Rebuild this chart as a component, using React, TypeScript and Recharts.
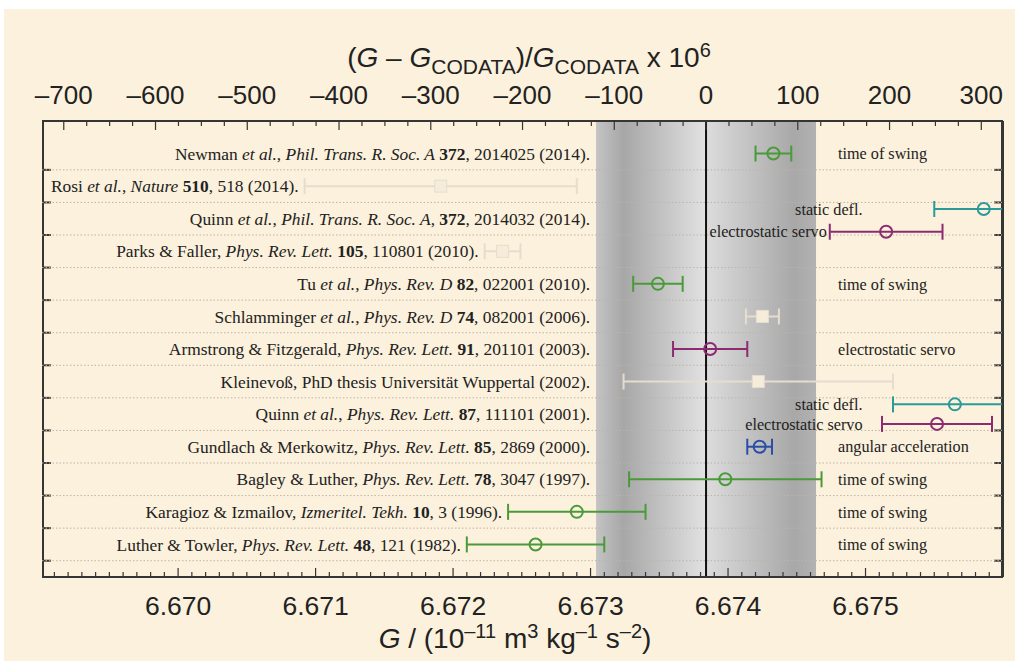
import React from 'react';
import {
  ComposedChart,
  Scatter,
  ErrorBar,
  XAxis,
  YAxis,
  ReferenceArea,
  ReferenceLine,
} from 'recharts';

// CODATA 2010 value and its standard uncertainty
const G_CODATA = 6.67384;
const G_CODATA_ERR = 0.0008;
const G_MIN = 6.66901;
const G_MAX = 6.676;

const rowLabels = [
  'Newman *et al.*, *Phil. Trans. R. Soc. A* **372**, 2014025 (2014).',
  'Rosi *et al.*, *Nature* **510**, 518 (2014).',
  'Quinn *et al.*, *Phil. Trans. R. Soc. A*, **372**, 2014032 (2014).',
  'Parks & Faller, *Phys. Rev. Lett.* **105**, 110801 (2010).',
  'Tu *et al.*, *Phys. Rev. D* **82**, 022001 (2010).',
  'Schlamminger *et al.*, *Phys. Rev. D* **74**, 082001 (2006).',
  'Armstrong & Fitzgerald, *Phys. Rev. Lett.* **91**, 201101 (2003).',
  'Kleinevoß, PhD thesis Universität Wuppertal (2002).',
  'Quinn *et al.*, *Phys. Rev. Lett.* **87**, 111101 (2001).',
  'Gundlach & Merkowitz, *Phys. Rev. Lett.* **85**, 2869 (2000).',
  'Bagley & Luther, *Phys. Rev. Lett.* **78**, 3047 (1997).',
  'Karagioz & Izmailov, *Izmeritel. Tekh.* **10**, 3 (1996).',
  'Luther & Towler, *Phys. Rev. Lett.* **48**, 121 (1982).',
];
const rowMethods = [
  'time of swing', '', '', '', 'time of swing', '', 'electrostatic servo',
  '', '', 'angular acceleration', 'time of swing', 'time of swing', 'time of swing',
];

// time of swing (green)
const swingG = [6.67433, 6.67349, 6.67398, 6.6729, 6.6726];
const swingErr = [0.00013, 0.00018, 0.0007, 0.0005, 0.0005];
const swingRow = [1, 5, 11, 12, 13];

// electrostatic servo (purple)
const servoG = [6.67515, 6.67387, 6.67552];
const servoErr = [0.00041, 0.00027, 0.0004];
const servoRow = [3.4, 7, 9.3];

// static deflection (teal)
const staticG = [6.67586, 6.67565];
const staticErr = [0.00036, 0.00045];
const staticRow = [2.7, 8.7];

// angular acceleration (blue)
const angularG = [6.67423];
const angularErr = [0.00009];
const angularRow = [10];

// other results (faint)
const otherG = [6.67191, 6.67236, 6.67425, 6.67422];
const otherErr = [0.00099, 0.00013, 0.00012, 0.00098];
const otherRow = [2, 4, 6, 8];

const subLabelText = ['static defl.', 'electrostatic servo', 'static defl.', 'electrostatic servo'];
const subLabelRow = [2.7, 3.4, 8.7, 9.3];

const ppmLabels = [-700, -600, -500, -400, -300, -200, -100, 0, 100, 200, 300];
const gLabels = [6.67, 6.671, 6.672, 6.673, 6.674, 6.675];

const WIDTH = 1015;
const HEIGHT = 661;
const AXIS_H = 60;
const MARGIN = { top: 61, right: 12, bottom: 24, left: 42 };
const PLOT_TOP = MARGIN.top + AXIS_H;
const PLOT_H = HEIGHT - PLOT_TOP - MARGIN.bottom - AXIS_H;
const PLOT_RIGHT = WIDTH - MARGIN.right;

const GREEN = '#4b9a3a';
const PURPLE = '#8c2b70';
const TEAL = '#2b9a98';
const BLUE = '#2a4ea6';
const FAINT = '#e6ddcf';
const FRAME = '#353535';
const SERIF = '"Liberation Serif", "Times New Roman", serif';
const SANS = '"Liberation Sans", Arial, sans-serif';

// error bars running past the frame are cut at its edge
const toPoints = (g: number[], err: number[], row: number[]) =>
  g.map((v, i) => ({
    g: v,
    err: [Math.min(err[i], v - G_MIN), Math.min(err[i], G_MAX - v)],
    low: v - err[i],
    row: row[i],
  }));

const swing = toPoints(swingG, swingErr, swingRow);
const servo = toPoints(servoG, servoErr, servoRow);
const statics = toPoints(staticG, staticErr, staticRow);
const angular = toPoints(angularG, angularErr, angularRow);
const other = toPoints(otherG, otherErr, otherRow);
const allPoints = [...swing, ...servo, ...statics, ...angular, ...other];

const toPpm = (g: number) => ((g - G_CODATA) / G_CODATA) * 1e6;
const ppmPoints = allPoints.map((p) => ({ ppm: toPpm(p.g), row: p.row }));

const leftLabels = rowLabels.map((text, i) => {
  const lows = allPoints.filter((p) => Math.round(p.row) === i + 1).map((p) => p.low);
  return { g: Math.min(G_CODATA - G_CODATA_ERR, ...lows), row: i + 1, text };
});
const methodLabels = rowMethods
  .map((text, i) => ({ g: G_CODATA + G_CODATA_ERR + 0.00016, row: i + 1, text }))
  .filter((d) => d.text);
const subLabels = subLabelText.map((text, i) => {
  const p = allPoints.find((q) => q.row === subLabelRow[i]);
  return { g: Math.min(6.675, p ? p.low : 6.675), row: subLabelRow[i], text };
});

const ppmTicks: number[] = [];
for (let v = -700; v <= 300; v += 25) ppmTicks.push(v);
const gTicks: number[] = [];
for (let n = 66691; n <= 66759; n++) gTicks.push(n / 10000);
const rowTicks = rowLabels.map((_, i) => i + 1.5);

const richText = (text: string) =>
  text
    .split(/(\*\*[^*]+\*\*|\*[^*]+\*)/)
    .filter(Boolean)
    .map((s, i) => {
      if (s.startsWith('**')) return <tspan key={i} fontWeight="bold">{s.slice(2, -2)}</tspan>;
      if (s.startsWith('*')) return <tspan key={i} fontStyle="italic">{s.slice(1, -1)}</tspan>;
      return <tspan key={i}>{s}</tspan>;
    });

const ring = (color: string) => (props: any) =>
  <circle cx={props.cx} cy={props.cy} r={6} fill="none" stroke={color} strokeWidth={2} />;

const square = (props: any) =>
  <rect x={props.cx - 6} y={props.cy - 6} width={12} height={12} fill="#f6ecda" stroke={FAINT} strokeWidth={1} />;

const nothing = () => <g />;

const textShape = (anchor: 'start' | 'end', dx: number, size: number) => (props: any) =>
  <text x={props.cx + dx} y={props.cy} dy="0.35em" textAnchor={anchor} fontFamily={SERIF}
    fontSize={size} fill="#222">{richText(props.payload.text)}</text>;

// side frames drawn just inside the plot area, with inward ticks at each row separator
const frameShape = (props: any) => {
  const { x, y, width, height } = props;
  const yAt = (v: number) => y + (v / 14) * height;
  const left = x + 1;
  const right = x + width - 1;
  return (
    <g>
      <line x1={left} x2={left} y1={y} y2={y + height} stroke={FRAME} strokeWidth={2} />
      <line x1={right} x2={right} y1={y} y2={y + height} stroke={FRAME} strokeWidth={2} />
      {rowTicks.map((v) => (
        <g key={v}>
          <line x1={left} x2={left + 8} y1={yAt(v)} y2={yAt(v)} stroke={FRAME} strokeWidth={2} />
          <line x1={right - 8} x2={right} y1={yAt(v)} y2={yAt(v)} stroke={FRAME} strokeWidth={2} />
        </g>
      ))}
    </g>
  );
};

const BottomTick = (props: any) => {
  const { x, y, payload } = props;
  const major = Math.round(payload.value * 10000) % 10 === 0;
  return (
    <g>
      <line x1={x} x2={x} y1={y} y2={y - (major ? 9 : 5)} stroke={FRAME} strokeWidth={1.2} />
      {major && gLabels.some((l) => Math.abs(l - payload.value) < 1e-6) && (
        <text x={x} y={y + 38} textAnchor="middle" fontFamily={SANS} fontSize={26.5} fill="#222">
          {payload.value.toFixed(3)}
        </text>
      )}
    </g>
  );
};

const TopTick = (props: any) => {
  const { x, y, payload } = props;
  const major = ppmLabels.includes(payload.value);
  return (
    <g>
      <line x1={x} x2={x} y1={y} y2={y + (major ? 9 : 5)} stroke={FRAME} strokeWidth={1.2} />
      {major && (
        <text x={x} y={y - 17} textAnchor="middle" fontFamily={SANS} fontSize={26} fill="#222">
          {payload.value < 0 ? '\u2013' + Math.abs(payload.value) : payload.value}
        </text>
      )}
    </g>
  );
};

const supStyle: React.CSSProperties = { fontSize: 20, verticalAlign: 'super', lineHeight: 0 };
const subStyle: React.CSSProperties = { fontSize: 21, verticalAlign: 'sub', lineHeight: 0 };

export default function App() {
  return (
    <div style={{ position: 'absolute', left: 0, top: 0, width: WIDTH, height: HEIGHT, background: '#fff' }}>
      <div style={{ position: 'absolute', left: 4, top: 9, right: 0, bottom: 0, background: '#fbf1dc' }} />
      <div style={{ position: 'absolute', left: 0, top: 0 }}>
        <ComposedChart width={WIDTH} height={HEIGHT} margin={MARGIN}>
          <defs>
            <linearGradient id="bandLeft" x1="0" y1="0" x2="1" y2="0">
              <stop offset="0%" stopColor="#c4c4c4" />
              <stop offset="25%" stopColor="#a7a7a7" />
              <stop offset="100%" stopColor="#e2e2e2" />
            </linearGradient>
            <linearGradient id="bandRight" x1="0" y1="0" x2="1" y2="0">
              <stop offset="0%" stopColor="#dcdcdc" />
              <stop offset="80%" stopColor="#a8a8a8" />
              <stop offset="100%" stopColor="#b2b2b2" />
            </linearGradient>
          </defs>
          <XAxis xAxisId="g" dataKey="g" type="number" orientation="bottom" domain={[G_MIN, G_MAX]}
            allowDataOverflow ticks={gTicks} interval={0} height={AXIS_H} tickSize={0} tickMargin={0}
            tick={<BottomTick />} axisLine={{ stroke: FRAME, strokeWidth: 2 }} />
          <XAxis xAxisId="ppm" dataKey="ppm" type="number" orientation="top" domain={[toPpm(G_MIN), toPpm(G_MAX)]}
            allowDataOverflow ticks={ppmTicks} interval={0} height={AXIS_H} tickSize={0} tickMargin={0}
            tick={<TopTick />} axisLine={{ stroke: FRAME, strokeWidth: 2 }} />
          <YAxis yAxisId="rows" dataKey="row" type="number" domain={[0, 14]} reversed allowDataOverflow
            width={0} tick={false} tickLine={false} axisLine={{ stroke: FRAME, strokeWidth: 2 }} />
          <ReferenceArea xAxisId="g" yAxisId="rows" x1={G_CODATA - G_CODATA_ERR} x2={G_CODATA}
            fill="url(#bandLeft)" fillOpacity={1} stroke="none" />
          <ReferenceArea xAxisId="g" yAxisId="rows" x1={G_CODATA} x2={G_CODATA + G_CODATA_ERR}
            fill="url(#bandRight)" fillOpacity={1} stroke="none" />
          {rowTicks.map((v) => (
            <ReferenceLine key={v} xAxisId="g" yAxisId="rows" y={v} stroke="#bdb5a6"
              strokeDasharray="1.5 2" strokeWidth={1} />
          ))}
          <ReferenceLine xAxisId="g" yAxisId="rows" x={G_CODATA} stroke="#111" strokeWidth={2} />
          <ReferenceArea xAxisId="g" yAxisId="rows" x1={G_MIN} x2={G_MAX} y1={0} y2={14}
            ifOverflow="visible" shape={frameShape} />

          <Scatter xAxisId="ppm" yAxisId="rows" data={ppmPoints} shape={nothing} isAnimationActive={false} />

          <Scatter xAxisId="g" yAxisId="rows" data={leftLabels} shape={textShape('end', -6, 17.4)}
            isAnimationActive={false} />
          <Scatter xAxisId="g" yAxisId="rows" data={methodLabels} shape={textShape('start', 0, 16.2)}
            isAnimationActive={false} />
          <Scatter xAxisId="g" yAxisId="rows" data={subLabels} shape={textShape('end', -3, 16.2)}
            isAnimationActive={false} />

          <Scatter xAxisId="g" yAxisId="rows" data={other} shape={square} isAnimationActive={false}>
            <ErrorBar dataKey="err" direction="x" width={8} stroke={FAINT} strokeWidth={2} isAnimationActive={false} />
          </Scatter>
          <Scatter xAxisId="g" yAxisId="rows" data={swing} shape={ring(GREEN)} isAnimationActive={false}>
            <ErrorBar dataKey="err" direction="x" width={8} stroke={GREEN} strokeWidth={2} isAnimationActive={false} />
          </Scatter>
          <Scatter xAxisId="g" yAxisId="rows" data={servo} shape={ring(PURPLE)} isAnimationActive={false}>
            <ErrorBar dataKey="err" direction="x" width={8} stroke={PURPLE} strokeWidth={2} isAnimationActive={false} />
          </Scatter>
          <Scatter xAxisId="g" yAxisId="rows" data={statics} shape={ring(TEAL)} isAnimationActive={false}>
            <ErrorBar dataKey="err" direction="x" width={8} stroke={TEAL} strokeWidth={2} isAnimationActive={false} />
          </Scatter>
          <Scatter xAxisId="g" yAxisId="rows" data={angular} shape={ring(BLUE)} isAnimationActive={false}>
            <ErrorBar dataKey="err" direction="x" width={8} stroke={BLUE} strokeWidth={2} isAnimationActive={false} />
          </Scatter>
        </ComposedChart>
      </div>
      {/* right edge of the plot frame, laid over the chart */}
      <div style={{ position: 'absolute', left: PLOT_RIGHT - 1, top: PLOT_TOP, width: 2, height: PLOT_H,
        background: FRAME }} />
      <div style={{ position: 'absolute', left: 529, top: 42, lineHeight: '32px', transform: 'translateX(-50%)',
        whiteSpace: 'nowrap', fontFamily: SANS, fontSize: 28, color: '#222' }}>
        (<i>G</i> – <i>G</i><span style={subStyle}>CODATA</span>)/<i>G</i><span style={subStyle}>CODATA</span> x 10<span style={supStyle}>6</span>
      </div>
      <div style={{ position: 'absolute', left: 515, top: 623, lineHeight: '32px', transform: 'translateX(-50%)',
        whiteSpace: 'nowrap', fontFamily: SANS, fontSize: 28, color: '#222' }}>
        <i>G</i> / (10<span style={supStyle}>–11</span> m<span style={supStyle}>3</span> kg<span style={supStyle}>–1</span> s<span style={supStyle}>–2</span>)
      </div>
    </div>
  );
}
